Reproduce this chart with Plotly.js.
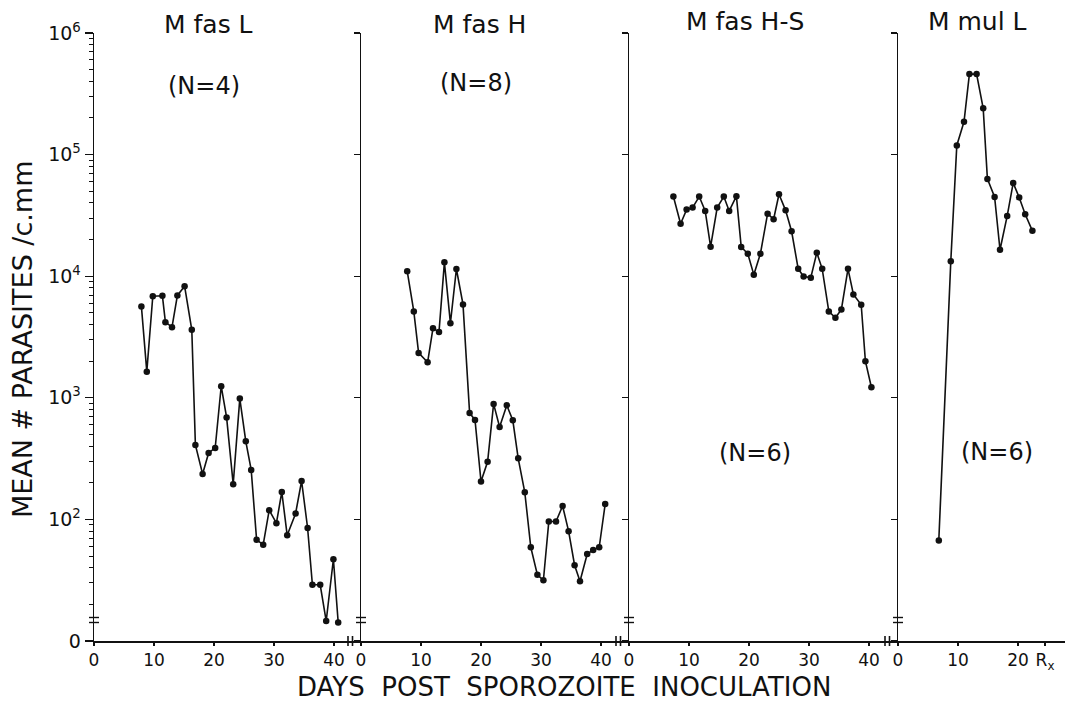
<!DOCTYPE html>
<html>
<head>
<meta charset="utf-8">
<script src="https://cdn.plot.ly/plotly-3.0.1.min.js"></script>
<style>html,body{margin:0;padding:0;background:#fff;}#chart{width:1065px;height:701px;}</style>
</head>
<body>
<div id="chart"></div>
<script>
// ---- data ----
const panelTitles = ["M fas L", "M fas H", "M fas H-S", "M mul L"];
const panelN = ["(N=4)", "(N=8)", "(N=6)", "(N=6)"];

const daysFasL = [7.9, 8.8, 9.8, 11.4, 11.9, 13.0, 13.9, 15.1, 16.3, 16.9, 18.1, 19.1, 20.2, 21.2, 22.1, 23.2, 24.3, 25.3, 26.2, 27.1, 28.2, 29.2, 30.4, 31.3, 32.2, 33.6, 34.6, 35.6, 36.4, 37.7, 38.7, 39.9, 40.7];
const valsFasL = [5640, 1640, 6850, 6900, 4190, 3810, 6950, 8280, 3620, 409, 236, 352, 387, 1245, 690, 195, 985, 439, 255, 68, 62, 119, 93, 168, 74, 112, 207, 85, 29, 29, 14.6, 47, 14.2];

const daysFasH = [7.7, 8.8, 9.6, 11.1, 12.0, 13.0, 13.9, 14.9, 15.9, 17.0, 18.1, 19.0, 20.0, 21.1, 22.1, 23.1, 24.3, 25.3, 26.2, 27.3, 28.3, 29.4, 30.4, 31.3, 32.5, 33.6, 34.6, 35.6, 36.5, 37.7, 38.7, 39.7, 40.7];
const valsFasH = [11000, 5130, 2340, 1960, 3740, 3470, 13000, 4110, 11460, 5860, 751, 658, 205, 298, 891, 575, 868, 653, 318, 167, 59, 35, 31.6, 96, 96, 129, 80, 42, 31, 52, 56, 59, 134];

const daysFasHS = [7.4, 8.6, 9.6, 10.6, 11.7, 12.7, 13.6, 14.7, 15.8, 16.7, 17.9, 18.7, 19.8, 20.8, 21.9, 23.1, 24.1, 25.0, 26.1, 27.1, 28.2, 29.1, 30.3, 31.3, 32.2, 33.3, 34.4, 35.4, 36.5, 37.4, 38.7, 39.4, 40.4];
const valsFasHS = [45200, 27000, 35300, 36700, 45200, 34400, 17500, 36700, 45200, 34400, 45500, 17400, 15300, 10300, 15300, 32700, 29400, 47200, 34800, 23400, 11500, 9950, 9730, 15600, 11500, 5130, 4550, 5330, 11500, 7080, 5820, 2000, 1220];

const daysMulL = [6.8, 8.8, 9.8, 11.0, 11.9, 13.1, 14.2, 14.9, 16.1, 17.0, 18.2, 19.2, 20.2, 21.2, 22.4];
const valsMulL = [67, 13300, 119000, 186000, 459000, 459000, 240000, 63100, 44900, 16500, 31300, 58500, 44400, 32300, 23600];

const yTickVals = [10, 100, 1000, 10000, 100000, 1000000];
const yTickText = ["0", "10<sup>2</sup>", "10<sup>3</sup>", "10<sup>4</sup>", "10<sup>5</sup>", "10<sup>6</sup>"];
const yMinorVals = [20,30,40,50,60,70,80,90, 200,300,400,500,600,700,800,900, 2000,3000,4000,5000,6000,7000,8000,9000, 20000,30000,40000,50000,60000,70000,80000,90000, 200000,300000,400000,500000,600000,700000,800000,900000];
const xTickVals = [0, 10, 20, 30, 40];
const xTickValsMul = [0, 10, 20, 24.5];
const xTickTextMul = ["0", "10", "20", "R<sub>x</sub>"];
const xTitle = "DAYS  POST  SPOROZOITE  INOCULATION";
const yTitle = "MEAN # PARASITES /c.mm";

// ---- layout geometry (pixels) ----
const W = 1065, H = 701;
const axisPx = [94, 361, 629, 898, 1065];
const pxPerDay = 6;
const FONT = "DejaVu Sans, Liberation Sans, sans-serif";

const series = [[daysFasL, valsFasL], [daysFasH, valsFasH], [daysFasHS, valsFasHS], [daysMulL, valsMulL]];
const traces = series.map((s, i) => ({
  x: s[0], y: s[1], type: "scatter", mode: "lines+markers",
  xaxis: i === 0 ? "x" : "x" + (i + 1), yaxis: i === 0 ? "y" : "y" + (i + 1),
  line: {color: "#111", width: 1.6},
  marker: {color: "#111", size: 6.5},
  cliponaxis: false, showlegend: false, hoverinfo: "x+y"
}));

const layout = {
  width: W, height: H,
  margin: {l: 0, r: 0, t: 33, b: 60},
  paper_bgcolor: "#fff", plot_bgcolor: "#fff",
  font: {family: FONT, color: "#111"},
  showlegend: false,
  annotations: [],
  shapes: []
};

for (let i = 0; i < 4; i++) {
  const sfx = i === 0 ? "" : String(i + 1);
  const d0 = axisPx[i] / W, d1 = axisPx[i + 1] / W;
  const xr = (axisPx[i + 1] - axisPx[i]) / pxPerDay;
  layout["xaxis" + sfx] = {
    domain: [d0, d1], range: [0, xr], anchor: "y" + sfx,
    showline: true, linecolor: "#111", linewidth: 1.6,
    ticks: "outside", ticklen: 3, tickwidth: 1.5, tickcolor: "#111",
    tickmode: "array",
    tickvals: i === 3 ? xTickValsMul : xTickVals,
    ticktext: i === 3 ? xTickTextMul : xTickVals.map(String),
    tickfont: {size: 17, family: FONT, color: "#111"},
    showgrid: false, zeroline: false, fixedrange: true
  };
  const ya = {
    type: "log", range: [1, 6], domain: [0, 1], anchor: "x" + sfx,
    showline: true, linecolor: "#111", linewidth: 1.4,
    ticks: "outside", tickwidth: 1.3, tickcolor: "#111",
    tickmode: "array", tickvals: yTickVals, ticktext: yTickText,
    showgrid: false, zeroline: false, fixedrange: true
  };
  if (i === 0) {
    ya.ticklen = 8;
    ya.showticklabels = true;
    ya.tickfont = {size: 19, family: FONT, color: "#111"};
    ya.minor = {tickmode: "array", tickvals: yMinorVals, ticks: "outside", ticklen: 4, tickwidth: 1, tickcolor: "#111", showgrid: false};
  } else {
    ya.ticklen = 6;
    ya.showticklabels = false;
  }
  layout["yaxis" + sfx] = ya;

  // y-axis break marks "="
  [617.5, 622.5].forEach(py => {
    layout.shapes.push({type: "line", xref: "paper", yref: "paper",
      x0: (axisPx[i] - 5) / W, x1: (axisPx[i] + 5) / W,
      y0: (641 - py) / 608, y1: (641 - py) / 608,
      line: {color: "#111", width: 1.4}});
  });
  // x-axis break marks "||" before the next panel
  if (i < 3) {
    const bx = axisPx[i + 1] - 13;
    [bx, bx + 4.5].forEach(px => {
      layout.shapes.push({type: "line", xref: "paper", yref: "paper",
        x0: px / W, x1: px / W, y0: -5 / 608, y1: 5 / 608,
        line: {color: "#111", width: 1.6}});
    });
  }
}

// panel titles and N labels
const titlePos = [[208, 24], [479, 24], [745, 21], [977, 22]];
const nPos = [[204, 86], [476, 83], [755, 453], [997, 452]];
for (let i = 0; i < 4; i++) {
  layout.annotations.push({text: panelTitles[i], xref: "paper", yref: "paper",
    x: titlePos[i][0] / W, y: (641 - titlePos[i][1]) / 608, xanchor: "center", yanchor: "middle",
    showarrow: false, font: {size: 25, family: FONT, color: "#111"}});
  layout.annotations.push({text: panelN[i], xref: "paper", yref: "paper",
    x: nPos[i][0] / W, y: (641 - nPos[i][1]) / 608, xanchor: "center", yanchor: "middle",
    showarrow: false, font: {size: 24, family: FONT, color: "#111"}});
}
// axis titles
layout.annotations.push({text: xTitle, xref: "paper", yref: "paper",
  x: 564 / W, y: (641 - 687) / 608, xanchor: "center", yanchor: "middle",
  showarrow: false, font: {size: 26, family: FONT, color: "#111"}});
layout.annotations.push({text: yTitle, xref: "paper", yref: "paper",
  x: 23 / W, y: (641 - 340) / 608, xanchor: "center", yanchor: "middle", textangle: -90,
  showarrow: false, font: {size: 27, family: FONT, color: "#111"}});

Plotly.newPlot("chart", traces, layout, {displayModeBar: false, staticPlot: true});
</script>
</body>
</html>
